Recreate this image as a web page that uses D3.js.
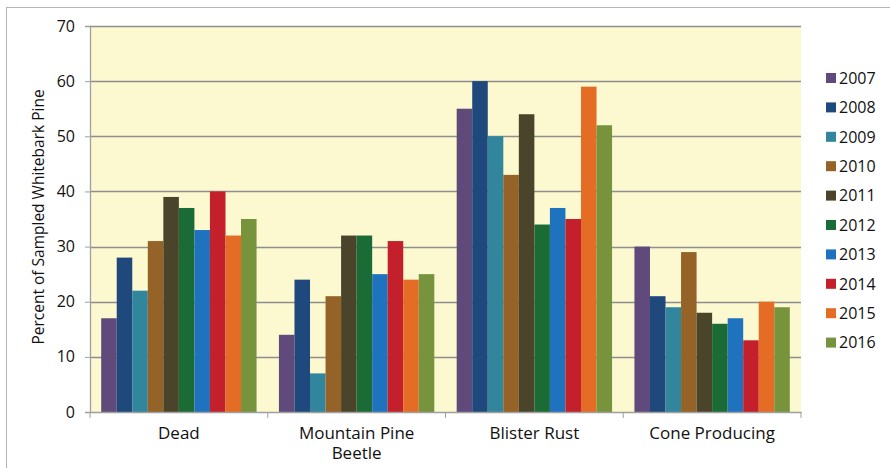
<!DOCTYPE html>
<html>
<head>
<meta charset="utf-8">
<script src="https://cdn.jsdelivr.net/npm/d3@7"></script>
<style>
  body { margin: 0; background: #fff; }
  svg text { font-family: 'Open Sans', 'DejaVu Sans', sans-serif; fill: #111; }
</style>
</head>
<body>
<svg id="chart" width="890" height="468"></svg>
<script>
var categories = ['Dead', 'Mountain Pine Beetle', 'Blister Rust', 'Cone Producing'];
var years = ['2007', '2008', '2009', '2010', '2011', '2012', '2013', '2014', '2015', '2016'];
var yearColors = ['#604a7b', '#1f497d', '#31859c', '#956228', '#4a452a',
                  '#1b6b37', '#1f73be', '#c4202b', '#e46c24', '#77933c'];

var dead = [17, 28, 22, 31, 39, 37, 33, 40, 32, 35];
var mountainPineBeetle = [14, 24, 7, 21, 32, 32, 25, 31, 24, 25];
var blisterRust = [55, 60, 50, 43, 54, 34, 37, 35, 59, 52];
var coneProducing = [30, 21, 19, 29, 18, 16, 17, 13, 20, 19];
var yTicks = [0, 10, 20, 30, 40, 50, 60, 70];

var seriesByCat = [dead, mountainPineBeetle, blisterRust, coneProducing];

var svg = d3.select('#chart');
var width = 890, height = 468;
var padding = { top: 26, right: 89, bottom: 56, left: 90 };

// outer frame (top and left edges show)
svg.append('rect')
    .attr('x', 6.5).attr('y', 7.5)
    .attr('width', 900).attr('height', 500)
    .attr('fill', 'none')
    .attr('stroke', '#b4b4b4');

var xScale = d3.scaleBand()
    .domain(categories)
    .range([padding.left, width - padding.right])
    .paddingInner(0).paddingOuter(0);

var xInner = d3.scaleBand()
    .domain(years)
    .range([0, xScale.bandwidth()])
    .paddingInner(0)
    .paddingOuter(0.72);

var yScale = d3.scaleLinear()
    .domain([0, 70])
    .range([height - padding.bottom, padding.top]);

// plot background
svg.append('rect')
    .attr('x', padding.left)
    .attr('y', padding.top)
    .attr('width', width - padding.left - padding.right)
    .attr('height', height - padding.top - padding.bottom)
    .attr('fill', '#fcf8d0');

// gridlines
svg.append('g')
    .selectAll('line')
    .data(yTicks.slice(1))
    .join('line')
        .attr('x1', padding.left)
        .attr('x2', width - padding.right)
        .attr('y1', d => Math.round(yScale(d)) + 0.5)
        .attr('y2', d => Math.round(yScale(d)) + 0.5)
        .attr('stroke', '#8e8e8e')
        .attr('stroke-width', 1.3);

// bars
var groups = svg.append('g')
    .selectAll('g')
    .data(categories)
    .join('g')
        .attr('transform', d => `translate(${xScale(d)}, 0)`);

groups.selectAll('rect')
    .data((d, i) => seriesByCat[i].map((v, j) => ({ year: years[j], value: v, color: yearColors[j] })))
    .join('rect')
        .attr('x', d => xInner(d.year))
        .attr('width', xInner.bandwidth())
        .attr('y', d => yScale(d.value))
        .attr('height', d => yScale(0) - yScale(d.value))
        .attr('fill', d => d.color);

// y axis
var yAxis = d3.axisLeft(yScale)
    .tickValues(yTicks)
    .tickSize(5)
    .tickPadding(10);

var yG = svg.append('g')
    .attr('transform', `translate(${padding.left}, 0)`)
    .call(yAxis);
yG.select('.domain').attr('stroke', '#a0a0a0').attr('stroke-width', 1.3);
yG.selectAll('.tick line').attr('stroke', '#a0a0a0');
yG.selectAll('.tick text').style('font-size', '16px').attr('fill', '#111');

// x axis
var xAxis = d3.axisBottom(xScale).tickSize(0).tickFormat('');
var xG = svg.append('g')
    .attr('transform', `translate(0, ${yScale(0)})`)
    .call(xAxis);
xG.select('.domain').attr('stroke', '#a0a0a0').attr('stroke-width', 1.3);

// category boundary ticks
xG.selectAll('.bound')
    .data(categories.concat(['end']))
    .join('line')
        .attr('x1', (d, i) => i < categories.length ? xScale(d) : xScale.range()[1])
        .attr('x2', (d, i) => i < categories.length ? xScale(d) : xScale.range()[1])
        .attr('y1', 0).attr('y2', 6)
        .attr('stroke', '#a0a0a0');

var catLabels = {
    'Dead': ['Dead'],
    'Mountain Pine Beetle': ['Mountain Pine', 'Beetle'],
    'Blister Rust': ['Blister Rust'],
    'Cone Producing': ['Cone Producing']
};

svg.append('g')
    .selectAll('text')
    .data(categories)
    .join('text')
        .attr('x', d => xScale(d) + xScale.bandwidth() / 2)
        .attr('y', yScale(0) + 27)
        .style('font-size', '17px')
        .style('text-anchor', 'middle')
        .each(function(d) {
            var t = d3.select(this);
            catLabels[d].forEach((line, i) => {
                t.append('tspan')
                    .attr('x', xScale(d) + xScale.bandwidth() / 2)
                    .attr('dy', i === 0 ? 0 : 20)
                    .text(line);
            });
        });

// y axis label
svg.append('text')
    .attr('transform', 'rotate(-90)')
    .attr('x', -(padding.top + (height - padding.bottom)) / 2 + 2)
    .attr('y', 44)
    .style('font-size', '15.5px')
    .style('text-anchor', 'middle')
    .text('Percent of Sampled Whitebark Pine');

// legend
var legend = svg.append('g')
    .selectAll('g')
    .data(years)
    .join('g')
        .attr('transform', (d, i) => `translate(826, ${78 + i * 29.4})`);

legend.append('rect')
    .attr('x', 0).attr('y', -5)
    .attr('width', 10).attr('height', 10)
    .attr('fill', (d, i) => yearColors[i]);

legend.append('text')
    .attr('x', 13)
    .attr('y', 0)
    .attr('dy', '0.36em')
    .style('font-size', '16px')
    .text(d => d);
</script>
</body>
</html>
